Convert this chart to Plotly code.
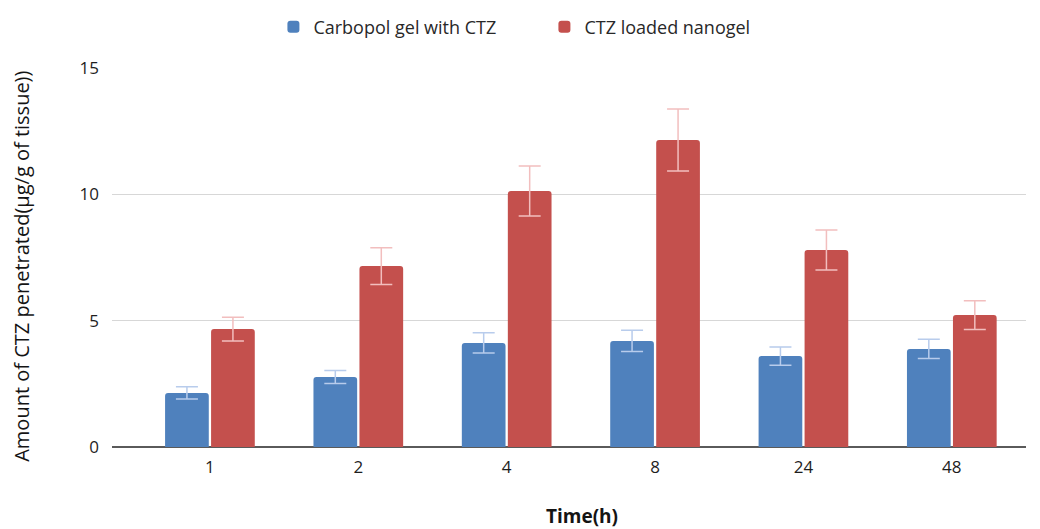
import plotly.graph_objects as go

time_labels = ['1', '2', '4', '8', '24', '48']
carbopol_mean = [2.14, 2.77, 4.12, 4.20, 3.60, 3.88]
carbopol_err = [0.24, 0.26, 0.40, 0.42, 0.36, 0.38]
nanogel_mean = [4.67, 7.16, 10.13, 12.15, 7.80, 5.22]
nanogel_err = [0.47, 0.73, 0.99, 1.23, 0.79, 0.57]

fig = go.Figure()

fig.add_trace(go.Bar(
    x=time_labels,
    y=carbopol_mean,
    name='Carbopol gel with CTZ',
    marker=dict(color='rgb(79, 129, 189)', line=dict(width=0)),
    error_y=dict(type='data', array=carbopol_err, visible=True,
                 color='rgb(184, 204, 236)', thickness=1.5, width=11),
))

fig.add_trace(go.Bar(
    x=time_labels,
    y=nanogel_mean,
    name='CTZ loaded nanogel',
    marker=dict(color='rgb(196, 80, 77)', line=dict(width=0)),
    error_y=dict(type='data', array=nanogel_err, visible=True,
                 color='rgb(242, 190, 190)', thickness=1.5, width=11),
))

fig.update_xaxes(
    type='category',
    range=[-0.66, 5.5],
    showgrid=False,
    showline=False,
    ticks='',
    automargin=False,
    ticklabelstandoff=8,
    tickfont=dict(size=17, color='rgb(30, 30, 30)'),
)

fig.update_yaxes(
    range=[0, 15],
    tickvals=[0, 5, 10, 15],
    showgrid=True,
    gridcolor='rgb(215, 215, 215)',
    gridwidth=1,
    zeroline=True,
    zerolinecolor='rgb(90, 90, 90)',
    zerolinewidth=1.5,
    ticks='',
    automargin=False,
    ticklabelstandoff=12,
    tickfont=dict(size=17, color='rgb(30, 30, 30)'),
)

# axis titles placed as annotations so they sit where the reference has them
fig.add_annotation(
    text='Amount of CTZ penetrated(µg/g of tissue))',
    xref='paper', yref='paper',
    x=-0.0985, y=0.478, xanchor='center', yanchor='middle',
    textangle=-90,
    showarrow=False,
    font=dict(size=20, color='rgb(20, 20, 20)'),
)

fig.add_annotation(
    text='<b>Time(h)</b>',
    xref='paper', yref='paper',
    x=0.514, y=-0.182, xanchor='center', yanchor='middle',
    showarrow=False,
    font=dict(size=19, color='rgb(20, 20, 20)'),
)

fig.update_layout(
    width=1040,
    height=529,
    barmode='group',
    bargap=0.38,
    bargroupgap=0.05,
    barcornerradius=3,
    showlegend=True,
    legend=dict(
        orientation='h',
        yref='container',
        x=0.1766, xanchor='left',
        y=0.964, yanchor='middle',
        entrywidth=226,
        font=dict(size=18, color='rgb(40, 40, 40)'),
        traceorder='normal',
    ),
    plot_bgcolor='white',
    paper_bgcolor='white',
    margin=dict(l=104, r=22, t=60, b=90, autoexpand=False),
    font=dict(family='Open Sans, sans-serif', size=14, color='rgb(40, 40, 40)'),
)

fig.write_html('out.html')
